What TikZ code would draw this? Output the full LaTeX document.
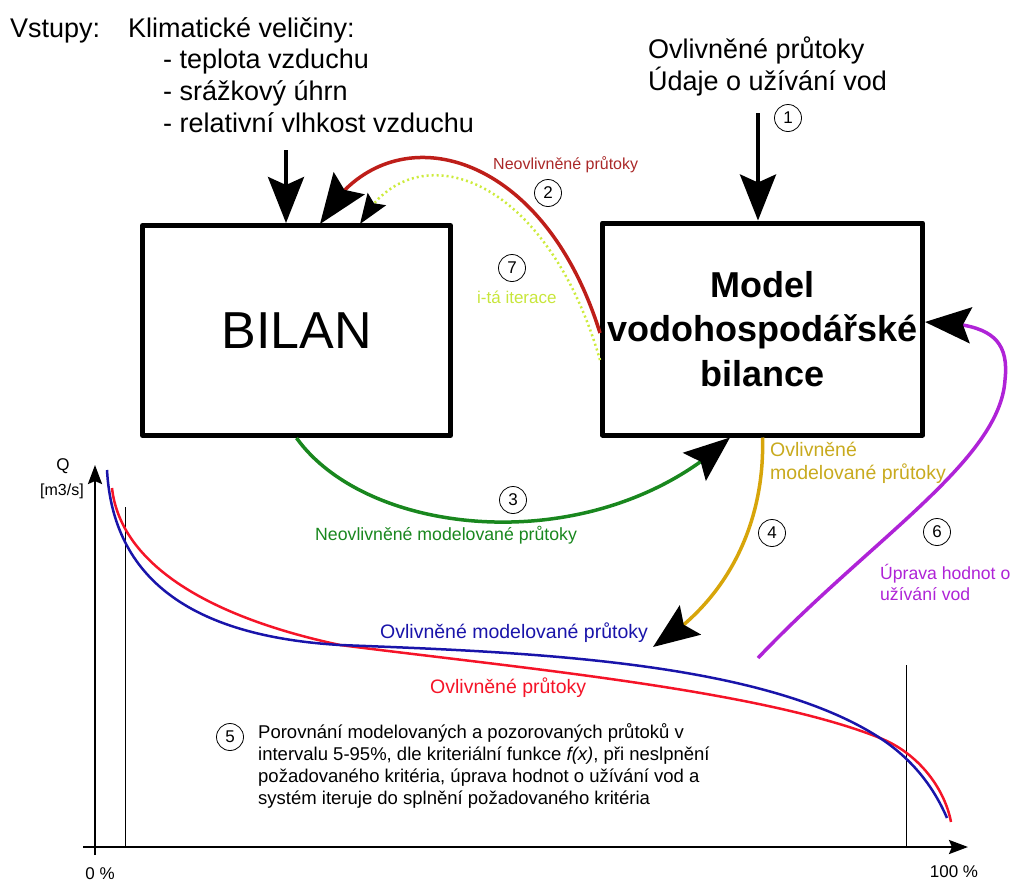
\documentclass[tikz,border=0pt]{standalone}
\usepackage{fontspec}
\setmainfont{Liberation Sans}
\usetikzlibrary{arrows.meta,bending,calc}
\definecolor{cRed}{RGB}{190,30,25}
\definecolor{cRedTxt}{RGB}{170,40,40}
\definecolor{cLime}{RGB}{205,235,60}
\definecolor{cLimeTxt}{RGB}{200,230,60}
\definecolor{cGreen}{RGB}{25,135,30}
\definecolor{cGold}{RGB}{215,165,10}
\definecolor{cGoldTxt}{RGB}{200,170,30}
\definecolor{cPurple}{RGB}{175,35,215}
\definecolor{cBlue}{RGB}{25,20,170}
\definecolor{cRedTwo}{RGB}{245,20,40}
\begin{document}
\begin{tikzpicture}[x=1pt,y=-1pt,
  box/.style={draw, line width=5pt, line join=round, inner sep=0pt},
  bigtip/.style={-{Stealth[length=46pt,width=36pt,inset=8pt,color=black]}},
  flow/.style={line width=3.5pt},
  num/.style={draw, circle, line width=0.8pt, minimum size=27pt, inner sep=0pt, font=\fontsize{17}{17}\selectfont},
  lbl/.style={inner sep=0pt, anchor=west, align=left},
  big/.style={inner sep=0pt, anchor=base west, font=\fontsize{27}{32}\selectfont},
  axis/.style={line width=2.5pt, -{Stealth[length=19pt,width=14pt,inset=3pt]}},
  thin/.style={line width=0.9pt},
  fdc/.style={line width=2.5pt}
]
\useasboundingbox (0,0) rectangle (1013,884);

% boxes
\node[box, minimum width=308pt, minimum height=210pt, font=\fontsize{52}{60}\selectfont] (bilan) at (296.5,330.5) {BILAN};
\node[box, minimum width=320pt, minimum height=212pt, align=center, font=\fontsize{36}{44.5}\selectfont\bfseries] (model) at (762.5,329) {Model\\vodohospodářské\\bilance};

% inputs text (base anchor = baseline of last line)
\node[big] (vst) at (10,37) {Vstupy:};
\node[big] (klim) at (128,37) {Klimatické veličiny:};
\node[big, align=left] (list) at (163,132) {- teplota vzduchu\\- srážkový úhrn\\- relativní vlhkost vzduchu};
\node[big, align=left] (ovl) at (648,90) {Ovlivněné průtoky\\Údaje o užívání vod};

% straight input arrows
\coordinate (inA) at (286,150);
\coordinate (inB) at (758,113);
\draw[line width=4pt, bigtip] (inA) -- (inA |- bilan.north);
\draw[line width=4pt, bigtip] (inB) -- (inB |- model.north);

% numbers
\node[num] (n1) at (788,118) {1};
\node[num] (n2) at (548,193) {2};
\node[num] (n7) at (512,268) {7};
\node[num] (n3) at (513,500) {3};
\node[num] (n4) at (772,533) {4};
\node[num] (n6) at (937,532) {6};
\node[num] (n5) at (230,737) {5};

% curve 2 (red)
\coordinate (r2end) at (320,224);
\draw[cRed, flow, -{Stealth[length=50pt,width=38pt,inset=8pt,color=black]}]
  ([yshift=-4pt]model.west) .. controls (540,140) and (380,110) .. (r2end);
\node[lbl, text=cRedTxt, font=\fontsize{16}{19}\selectfont] (l2) at (493,165) {Neovlivněné průtoky};

% curve 7 (dotted)
\coordinate (r7end) at (360,224);
\draw[cLime, line width=2.5pt, dash pattern=on 2pt off 3pt, -{Stealth[length=30pt,width=22pt,inset=5pt,color=black]}]
  ([yshift=-31pt]model.west) .. controls (545,170) and (410,130) .. (r7end);
\node[lbl, text=cLimeTxt, font=\fontsize{17}{20}\selectfont] (l7) at (477,297) {i-tá iterace};

% curve 3 (green)
\draw[cGreen, flow, bigtip] (bilan.south) .. controls (370,540) and (600,560) .. ($(model.south west)+(130,0)$);
\node[lbl, text=cGreen, font=\fontsize{17.7}{21}\selectfont] (l3) at (315,535) {Neovlivněné modelované průtoky};

% curve 4 (gold)
\coordinate (c4end) at (653,647);
\draw[cGold, flow, bigtip] (model.south) .. controls (765,520) and (730,600) .. (c4end);
\node[lbl, text=cGoldTxt, font=\fontsize{19.5}{23}\selectfont] (l4) at (770,463) {Ovlivněné\\modelované průtoky};

% curve 6 (purple)
\coordinate (c6start) at (758,658);
\draw[cPurple, flow, bigtip] (c6start) .. controls (870,540) and (1000,460) .. (1005,380)
   .. controls (1010,335) and (985,323) .. ([yshift=7pt]model.east);
\node[lbl, text=cPurple, font=\fontsize{17.6}{21}\selectfont] (l6) at (880,582) {Úprava hodnot o\\užívání vod};

% chart axes
\draw[axis] (95,855) -- (95,465);
\draw[axis] (83,847) -- (968,847);
\draw[thin] (125,507) -- (125,847);
\draw[thin] (906,665) -- (906,847);
\node[inner sep=0pt, font=\fontsize{17}{20}\selectfont] (q) at (63,466) {Q};
\node[inner sep=0pt, font=\fontsize{16}{19}\selectfont] (unit) at (62,491) {[m3/s]};
\node[inner sep=0pt, font=\fontsize{17}{20}\selectfont] (p0) at (100,874) {0 \%};
\node[inner sep=0pt, font=\fontsize{17}{20}\selectfont] (p100) at (954,872) {100 \%};

% duration curves
\draw[cRedTwo, fdc] (112,488) .. controls (120,560) and (200,615) .. (340,645)
   .. controls (520,668) and (760,690) .. (880,738)
   .. controls (920,754) and (945,790) .. (951,822);
\draw[cBlue, fdc] (107,470) .. controls (113,578) and (190,636) .. (340,645)
   .. controls (520,652) and (760,660) .. (880,738)
   .. controls (915,761) and (935,790) .. (947,818);
\node[lbl, text=cBlue, font=\fontsize{19.5}{23}\selectfont] (lb) at (380,633) {Ovlivněné modelované průtoky};
\node[lbl, text=cRedTwo, font=\fontsize{19.5}{23}\selectfont] (lr) at (430,688) {Ovlivněné průtoky};

% caption
\node[inner sep=0pt, anchor=base west, align=left, font=\fontsize{18.5}{21.7}\selectfont] (cap) at (258,804)
 {Porovnání modelovaných a pozorovaných průtoků v\\intervalu 5-95\%, dle kriteriální funkce \textit{f(x)}, při neslpnění\\požadovaného kritéria, úprava hodnot o užívání vod a\\systém iteruje do splnění požadovaného kritéria};
\end{tikzpicture}
\end{document}
